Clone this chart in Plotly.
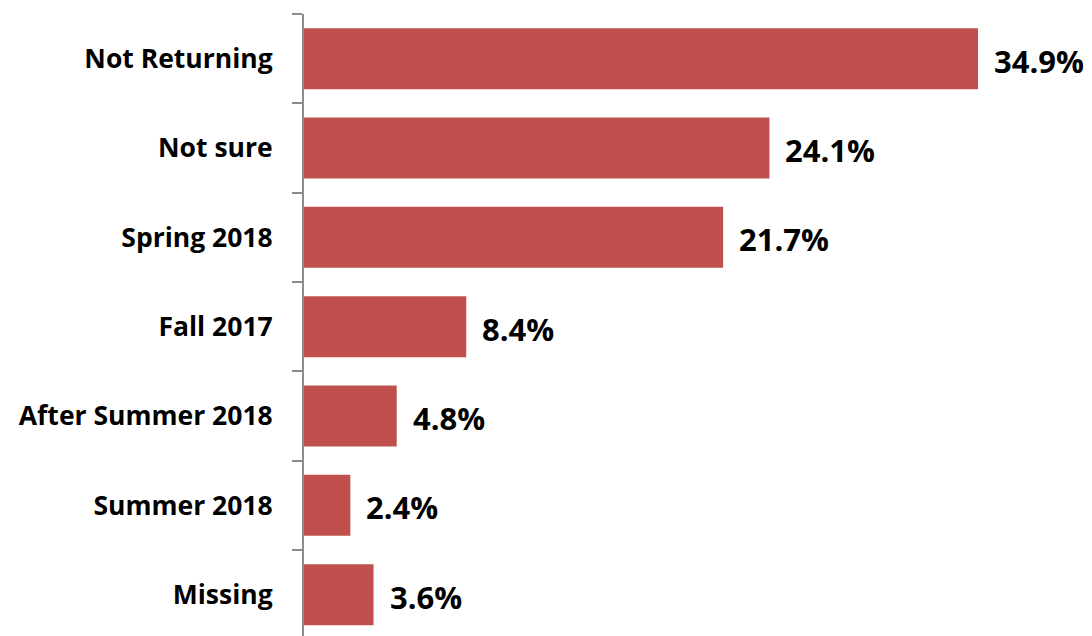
import plotly.graph_objects as go

# Return-plan categories, listed top to bottom
categories = ["Not Returning", "Not sure", "Spring 2018", "Fall 2017",
              "After Summer 2018", "Summer 2018", "Missing"]
percent = [34.9, 24.1, 21.7, 8.4, 4.8, 2.4, 3.6]
value_labels = [f"{v:.1f}%" for v in percent]

BAR_COLOR = "#C0504D"
AXIS_COLOR = "#8C8C8C"
FONT = "Open Sans"

fig = go.Figure()
fig.add_trace(go.Bar(
    x=percent,
    y=categories,
    orientation="h",
    width=0.683,
    marker=dict(color=BAR_COLOR, line=dict(width=0)),
    hoverinfo="skip",
))

# Percentage labels just to the right of each bar
for cat, v, lab in zip(categories, percent, value_labels):
    fig.add_annotation(
        x=v, y=cat, text=f"<b>{lab}</b>", showarrow=False,
        xanchor="left", yanchor="middle", xshift=14, yshift=-2,
        font=dict(family=FONT, size=31, color="#000000"),
    )

fig.update_layout(
    width=1092, height=636,
    margin=dict(l=304, r=0, t=14, b=0),
    paper_bgcolor="white", plot_bgcolor="white",
    showlegend=False,
    xaxis=dict(range=[0, 40.8], visible=False, fixedrange=True),
    yaxis=dict(
        type="category",
        categoryorder="array", categoryarray=categories,
        range=[6.463, -0.5],
        showline=True, linecolor=AXIS_COLOR, linewidth=2,
        ticks="outside", ticklen=10, tickwidth=2, tickcolor=AXIS_COLOR,
        tickson="boundaries",
        ticklabelstandoff=24,
        showgrid=False, zeroline=False,
        tickfont=dict(family=FONT, size=26.5, color="#000000", weight="bold"),
    ),
)

fig.write_html("out.html")
